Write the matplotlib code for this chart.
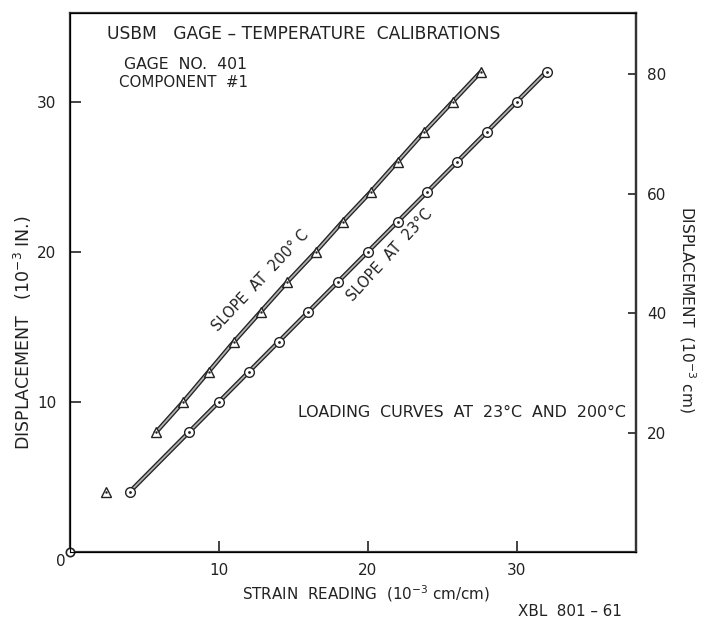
import numpy as np
import matplotlib
matplotlib.use("Agg")
import matplotlib.pyplot as plt
import matplotlib.patheffects as pe

# loading curve at 23 C (circles)
strain_23 = [4, 8, 10, 12, 14, 16, 18, 20, 22, 24, 26, 28, 30, 32]
disp_23 = [4, 8, 10, 12, 14, 16, 18, 20, 22, 24, 26, 28, 30, 32]

# loading curve at 200 C (triangles)
strain_200 = [5.8, 7.6, 9.3, 11.0, 12.8, 14.6, 16.5, 18.3, 20.2, 22.0, 23.8, 25.7, 27.6]
disp_200 = [8, 10, 12, 14, 16, 18, 20, 22, 24, 26, 28, 30, 32]
# first 200 C reading, not joined to the curve
strain_200_first = [2.4]
disp_200_first = [4]

x_ticks = [10, 20, 30]
y_ticks = [10, 20, 30]
y_ticks_cm = [20, 40, 60, 80]

plt.rcParams['font.family'] = ['DejaVu Sans']
ink = '#222222'

fig = plt.figure(figsize=(7.1, 6.22), dpi=100)
ax = fig.add_axes([70 / 710, 1 - 552 / 622, 566 / 710, 539 / 622])
ax.set_xlim(0, 38.0)
ax.set_ylim(0, 35.9)

line_fx = [pe.Stroke(linewidth=3.2, foreground=ink), pe.Normal()]
ax.plot(strain_23, disp_23, color='#b0b0b0', lw=1.3, path_effects=line_fx, zorder=2)
ax.plot(strain_200, disp_200, color='#b0b0b0', lw=1.3, path_effects=line_fx, zorder=2)

ax.plot(strain_23, disp_23, 'o', ms=7, mfc='white', mec=ink, mew=1.0, zorder=3)
ax.plot(strain_23, disp_23, '.', ms=2, color=ink, zorder=4)
ax.plot(strain_200, disp_200, '^', ms=7.5, mfc='white', mec=ink, mew=1.0, zorder=3)
ax.plot(strain_200_first, disp_200_first, '^', ms=7.5, mfc='white', mec=ink, mew=1.0, zorder=3)
ax.plot(strain_200 + strain_200_first, disp_200 + disp_200_first, '.', ms=1.5, color=ink, zorder=4)
ax.plot([0], [0], 'o', ms=6, mfc='white', mec=ink, mew=1.2, zorder=5, clip_on=False)

for s in ax.spines.values():
    s.set_color('#333333')
    s.set_linewidth(1.6)

ax.set_xticks(x_ticks)
ax.set_yticks(y_ticks)
ax.tick_params(direction='in', length=8, width=1.2, color=ink, labelsize=11,
               labelcolor=ink)
ax.tick_params(axis='x', pad=8)
ax.tick_params(axis='y', pad=10)

ax2 = ax.twinx()
ax2.set_ylim(0, 90.3)
ax2.set_yticks(y_ticks_cm)
ax2.spines['right'].set_color('#333333')
ax2.spines['right'].set_linewidth(1.6)
ax2.tick_params(direction='in', length=6, width=1.2, color=ink, labelsize=11,
                labelcolor=ink, pad=8)

ax.text(-0.3, -0.6, '0', ha='right', va='center', fontsize=11, color=ink)

ax.set_xlabel('STRAIN  READING  (10$^{-3}$ cm/cm)', fontsize=10.9, color=ink)
ax.xaxis.set_label_coords(296 / 566, -(594 - 552) / 539)
ax.xaxis.label.set_va('center')
ax.set_ylabel('DISPLACEMENT   (10$^{-3}$ IN.)', fontsize=12.5, color=ink)
ax.yaxis.set_label_coords(-47 / 566, (552 - 333) / 539)
ax.yaxis.label.set_va('center')
ax2.set_ylabel('DISPLACEMENT  (10$^{-3}$ cm)', fontsize=11.2, color=ink, rotation=-90)
ax2.yaxis.set_label_coords(617 / 566, (552 - 310) / 539)
ax2.yaxis.label.set_va('center')

ax.text(2.5, 34.5, 'USBM   GAGE – TEMPERATURE  CALIBRATIONS', fontsize=12.3,
        color=ink, va='center')
ax.text(3.6, 32.5, 'GAGE  NO.  401', fontsize=11.3, color=ink, va='center')
ax.text(3.3, 31.3, 'COMPONENT  #1', fontsize=10.8, color=ink, va='center')
ax.text(15.3, 9.3, 'LOADING  CURVES  AT  23°C  AND  200°C', fontsize=11.4,
        color=ink, va='center')
ax.text(12.8, 18.1, 'SLOPE  AT  200° C', fontsize=10.5, color=ink,
        rotation=46.5, ha='center', va='center', rotation_mode='anchor')
ax.text(21.5, 19.8, 'SLOPE  AT  23°C', fontsize=10.5, color=ink,
        rotation=47.5, ha='center', va='center', rotation_mode='anchor')

fig.text(518 / 710, 1 - 612 / 622, 'XBL  801 – 61', fontsize=10.9, color=ink, va='center')

fig.savefig('out.png', dpi=100)
